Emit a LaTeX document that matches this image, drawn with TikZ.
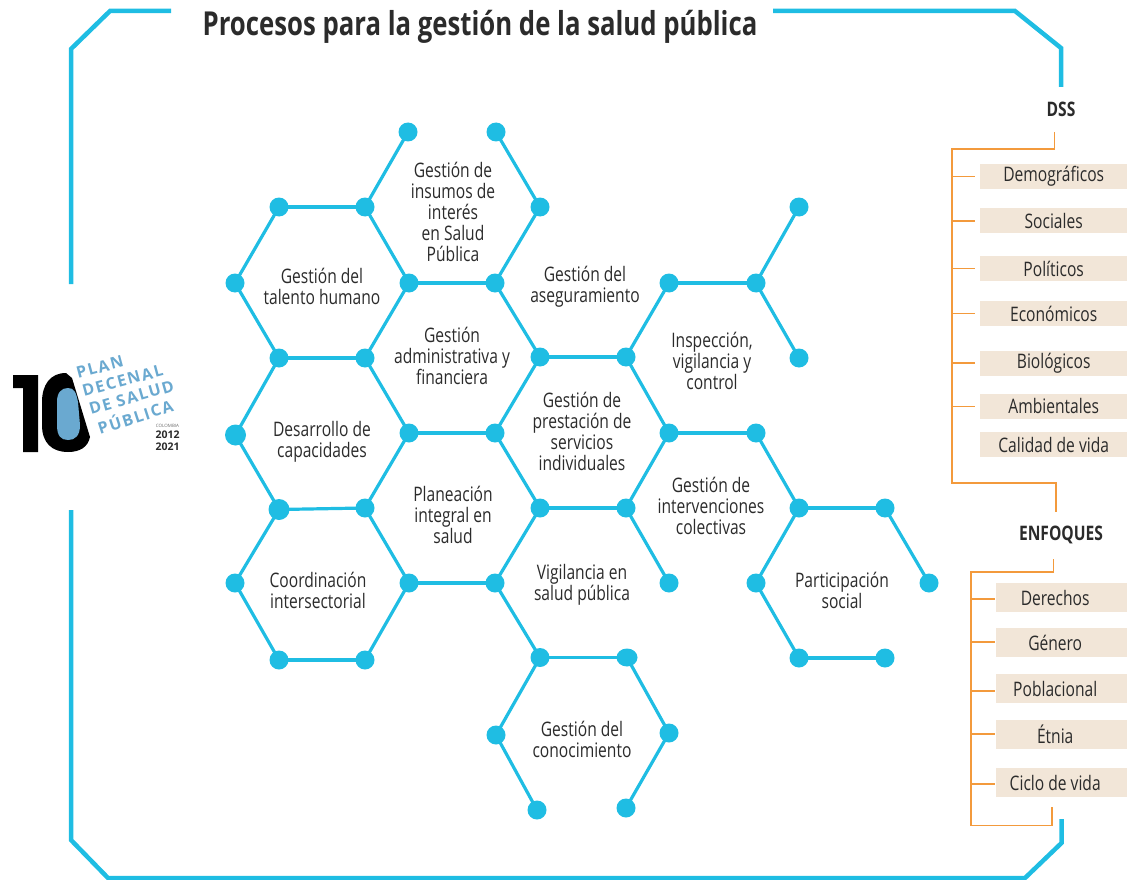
\documentclass[tikz,border=0pt]{standalone}
\usepackage{fontspec}
\usetikzlibrary{shapes.geometric}
\setmainfont{Open Sans}[FakeStretch=0.78]
\newfontfamily\logofont{Open Sans}
\newfontfamily\logospaced{Open Sans}[LetterSpace=10]
\definecolor{hexblue}{HTML}{1FBDE3}
\definecolor{orangeline}{HTML}{F39A3C}
\definecolor{boxfill}{HTML}{F2E6D8}
\definecolor{ink}{HTML}{2B2B2B}
\definecolor{logoblue}{HTML}{6AA9D0}
\tikzset{
  frameline/.style={draw=hexblue,line width=4.5pt,line join=miter},
  hexline/.style={draw=hexblue,line width=3.2pt},
  dot/.style={circle,fill=hexblue,minimum size=19pt,inner sep=0pt},
  bigdot/.style={circle,fill=hexblue,minimum size=21pt,inner sep=0pt},
  hexlabel/.style={align=center,text=ink,font=\fontsize{20}{21}\selectfont,inner sep=0pt},
  headlabel/.style={text=ink,font=\fontsize{20}{22}\bfseries\selectfont,inner sep=0pt},
  itembox/.style={fill=boxfill,anchor=west,inner sep=0pt,text=ink,font=\fontsize{20}{20}\selectfont},
  orangeln/.style={draw=orangeline,line width=1.7pt},
  logotext/.style={text=logoblue,font=\logospaced\bfseries\fontsize{16}{18}\selectfont,anchor=base west,inner sep=0pt}
}
\begin{document}
\begin{tikzpicture}[x=1pt,y=-1pt]
\useasboundingbox (0,0) rectangle (1127,880);

% frame
\coordinate (ftl0) at (171,11); \coordinate (ftl1) at (110,11); \coordinate (ftl2) at (71,49); \coordinate (ftl3) at (71,284);
\coordinate (ftr0) at (773,11); \coordinate (ftr1) at (1015,11); \coordinate (ftr2) at (1061,48); \coordinate (ftr3) at (1061,87);
\coordinate (fb0) at (71,510); \coordinate (fb1) at (71,840); \coordinate (fb2) at (108,878); \coordinate (fb3) at (1025,878); \coordinate (fb4) at (1061.5,843); \coordinate (fb5) at (1061.5,819);
\draw[frameline] (ftl0)--(ftl1)--(ftl2)--(ftl3);
\draw[frameline] (ftr0)--(ftr1)--(ftr2)--(ftr3);
\draw[frameline] (fb0)--(fb1)--(fb2)--(fb3)--(fb4)--(fb5);

\node[text=ink,inner sep=0pt,font=\fontsize{33}{36}\bfseries\selectfont] (title) at (480,27) {Procesos para la gestión de la salud pública};

% hex dots
\foreach \n/\x/\y in {
 a1/408/132,a2/496/132,
 b1/279/207,b2/365/207,b3/540/207,b4/799/207,
 c1/235/283,c2/409/283,c3/495/283,c4/669/283,c5/756/283,
 d1/279/358,d2/365/358,d3/540/357,d4/626/357,d5/799/358,
 e2/409/433,e3/495/433,e4/669/433,e5/756/433,
 f2/365/508,f3/540/508,f4/626/508,f5/799/508,f6/885/508,
 g1/235/583,g2/409/583,g3/495/583,g4/669/583,g5/756/583,g6/929/583,
 h1/279/660,h2/365/660,h3/540/657.5,h5/799/658,h6/885/658,
 i1/496/735,i2/669/733,
 j1/537/810,j2/626/808}
 {\node[dot] (\n) at (\x,\y) {};}
\node[bigdot] (e1) at (235.5,435) {};
\node[bigdot] (f1) at (279,509.5) {};
\node[ellipse,fill=hexblue,minimum width=21pt,minimum height=18pt,inner sep=0pt] (h4) at (627,657.5) {};
\foreach \p/\q in {a1/b2,a2/b3,b3/c3,b1/b2,b2/c2,b1/c1,c1/d1,c2/c3,c2/d2,d1/d2,c3/d3,d3/d4,d2/e2,e2/e3,e3/d3,
 d4/c4,c4/c5,c5/b4,c5/d5,d4/e4,e4/e5,e5/f5,f5/f6,f6/g6,f5/g5,g5/h5,h5/h6,e4/f4,f3/f4,f4/g4,e3/f3,f3/g3,g2/g3,
 e2/f2,f1/f2,d1/e1,e1/f1,f1/g1,g1/h1,h1/h2,h2/g2,f2/g2,g3/h3,h3/h4,h3/i1,h4/i2,i1/j1,i2/j2}
 {\draw[hexline] (\p.center)--(\q.center);}

% hex labels
\node[hexlabel] (l1) at (453,212) {Gestión de\\insumos de\\interés\\en Salud\\Pública};
\node[hexlabel] (l2) at (322,286) {Gestión del\\talento humano};
\node[hexlabel] (l3) at (585,287) {Gestión del\\aseguramiento};
\node[hexlabel] (l4) at (452,356) {Gestión\\administrativa y\\financiera};
\node[hexlabel] (l5) at (712,361) {Inspección,\\vigilancia y\\control};
\node[hexlabel] (l6) at (582,431) {Gestión de\\prestación de\\servicios\\individuales};
\node[hexlabel] (l7) at (322,442) {Desarrollo de\\capacidades};
\node[hexlabel] (l8) at (711,506) {Gestión de\\intervenciones\\colectivas};
\node[hexlabel] (l9) at (453,515) {Planeación\\integral en\\salud};
\node[hexlabel] (l10) at (318,590) {Coordinación\\intersectorial};
\node[hexlabel] (l11) at (582,584.5) {Vigilancia en\\salud pública};
\node[hexlabel] (l12) at (842,590) {Participación\\social};
\node[hexlabel] (l13) at (582,739) {Gestión del\\conocimiento};

% DSS
\node[headlabel] (dss) at (1061,109) {DSS};
\coordinate (ds0) at (1054.5,132); \coordinate (ds1) at (1054.5,149); \coordinate (ds2) at (952,149); \coordinate (ds3) at (952,483); \coordinate (ds4) at (1056,483); \coordinate (ds5) at (1056,512);
\draw[orangeln] (ds0)--(ds1)--(ds2)--(ds3)--(ds4)--(ds5);
\foreach \n/\t/\y/\r in {
 da/Demográficos/176.5/0,db/Sociales/220.5/0,dc/Políticos/268.5/0,dd/Económicos/313.5/0,
 de/Biológicos/363.5/0,df/Ambientales/406.5/2,dg/Calidad de vida/444.5/-1}
 {\node[itembox,minimum width=147pt,minimum height=25pt] (\n) at (980,\y) {\makebox[147pt]{\raisebox{\r pt}{\t}}};}
\foreach \n/\y in {da/176.5,db/221,dc/268.5,dd/313.5,de/363,df/406.5}
 {\coordinate (t\n) at (952,\y); \coordinate (u\n) at (975,\y); \draw[orangeln] (t\n)--(u\n);}

% ENFOQUES
\node[headlabel] (enf) at (1061,535) {ENFOQUES};
\coordinate (en0) at (1053.5,559); \coordinate (en1) at (1053.5,572); \coordinate (en2) at (971,572); \coordinate (en3) at (971,825.5); \coordinate (en4) at (1052,825.5); \coordinate (en5) at (1052,807);
\draw[orangeln] (en0)--(en1)--(en2)--(en3)--(en4)--(en5);
\foreach \n/\t/\y in {ea/Derechos/597.5,eb/Género/642.5,ec/Poblacional/688.5,ed/Étnia/734.5,ee/Ciclo de vida/782.5}
 {\node[itembox,minimum width=131pt,minimum height=29pt] (\n) at (996,\y) {\makebox[118pt]{\t}\hspace*{13pt}};}
\foreach \n/\y in {ea/599,eb/642,ec/691,ed/734,ee/784}
 {\coordinate (t\n) at (971,\y); \coordinate (u\n) at (995,\y); \draw[orangeln] (t\n)--(u\n);}

% logo
\fill[black] (13,375) -- (38,375) -- (38,452) -- (23,452) -- (23,388) -- (13,388) -- cycle;
\fill[black] (66,373) .. controls (50,373) and (42,385) .. (42,402) -- (42,425) .. controls (42,443) and (52,452) .. (68,452) .. controls (80,452) and (88,447) .. (90,437) -- (72,378) -- cycle;
\fill[logoblue] (68,388) .. controls (74,388) and (76,392) .. (78,402) -- (80,425) .. controls (80,436) and (75,440) .. (68,440) .. controls (61,440) and (57,436) .. (57,425) -- (57,402) .. controls (57,393) and (61,388) .. (68,388) -- cycle;
\node[logotext,rotate=15] (lg1) at (78,379) {PLAN};
\node[logotext,rotate=15] (lg2) at (84,397) {DECENAL};
\node[logotext,rotate=16] (lg3) at (91,415) {DE SALUD};
\node[logotext,rotate=18] (lg4) at (100,435) {PÚBLICA};
\node[text=ink,inner sep=0pt,align=center,font=\logofont\fontsize{10.5}{12}\bfseries\selectfont] (lg5) at (167.5,441) {2012\\2021};
\node[text=ink!70,inner sep=0pt,font=\logofont\fontsize{4.5}{5}\selectfont] (lg6) at (167.5,426) {COLOMBIA};
\end{tikzpicture}
\end{document}
